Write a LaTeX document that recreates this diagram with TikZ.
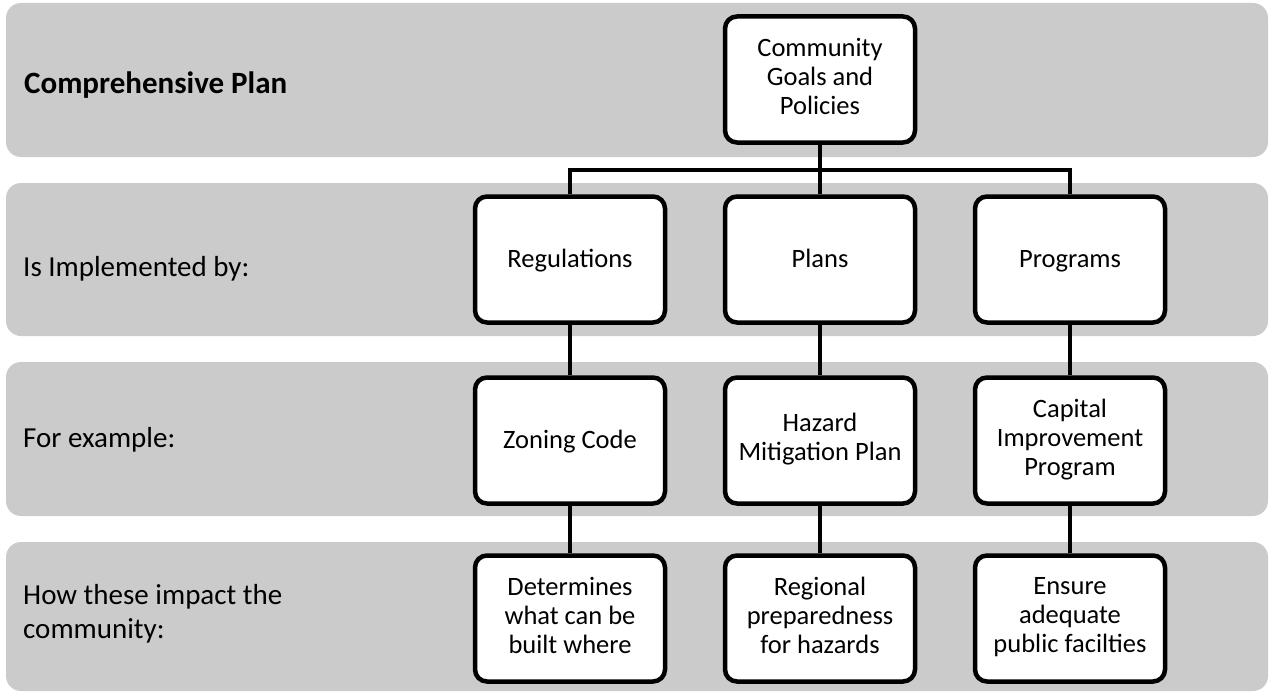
\documentclass[tikz,border=0pt]{standalone}
\usepackage{fontspec}
\setmainfont{Carlito}

\definecolor{bandgray}{RGB}{203,203,203}
\newcommand{\boxstrut}{\rule[-6.5pt]{0pt}{29.5pt}}

\tikzset{
  band/.style={fill=bandgray, rounded corners=15pt},
  rowlabel/.style={anchor=base west, align=left, inner sep=0pt,
    font=\fontsize{29}{34}\selectfont},
  box/.style={draw, fill=white, line width=4.5pt, rounded corners=12pt,
    minimum width=190pt, minimum height=126pt, align=center,
    font=\fontsize{26.5}{29}\selectfont,
    execute at begin node=\boxstrut, execute at end node=\boxstrut},
  link/.style={line width=4.5pt}
}

\begin{document}
\begin{tikzpicture}[x=1pt, y=-1pt]
  \useasboundingbox (0,0) rectangle (1269,693);

  % Background bands
  \fill[band] (6,3) rectangle (1268,157);
  \fill[band] (6,183) rectangle (1268,336);
  \fill[band] (6,362) rectangle (1268,516);
  \fill[band] (6,542) rectangle (1268,691);

  % Band labels
  \node[rowlabel, font=\bfseries\fontsize{31}{36}\selectfont] (lplan) at (24,93) {Comprehensive Plan};
  \node[rowlabel] (limpl) at (23,276) {Is Implemented by:};
  \node[rowlabel] (lexam) at (23,447) {For example:};
  \node[rowlabel, anchor=west] (limpact) at (23,614) {How these impact the\\community:};

  % Goals
  \node[box] (goals) at (820,79.5) {Community\\Goals and\\Policies};

  % Implementation tools
  \node[box] (regs) at (570,259.5) {Regulations};
  \node[box] (plans) at (820,259.5) {Plans};
  \node[box] (progs) at (1070,259.5) {Programs};

  % Examples
  \node[box] (zoning) at (570,440.5) {Zoning Code};
  \node[box] (hazard) at (820,440.5) {Hazard\\Mitigation Plan};
  \node[box] (cip) at (1070,440.5) {Capital\\Improvement\\Program};

  % Impacts
  \node[box] (built) at (570,618.5) {Determines\\what can be\\built where};
  \node[box] (prepared) at (820,618.5) {Regional\\preparedness\\for hazards};
  \node[box] (facilities) at (1070,618.5) {Ensure\\adequate\\public facilties};

  % Connectors
  \coordinate (split) at (820,170);
  \draw[link] (goals) -- (plans);
  \draw[link] (regs.north) |- (split) -| (progs.north);
  \draw[link] (regs) -- (zoning);
  \draw[link] (plans) -- (hazard);
  \draw[link] (progs) -- (cip);
  \draw[link] (zoning) -- (built);
  \draw[link] (hazard) -- (prepared);
  \draw[link] (cip) -- (facilities);
\end{tikzpicture}
\end{document}
